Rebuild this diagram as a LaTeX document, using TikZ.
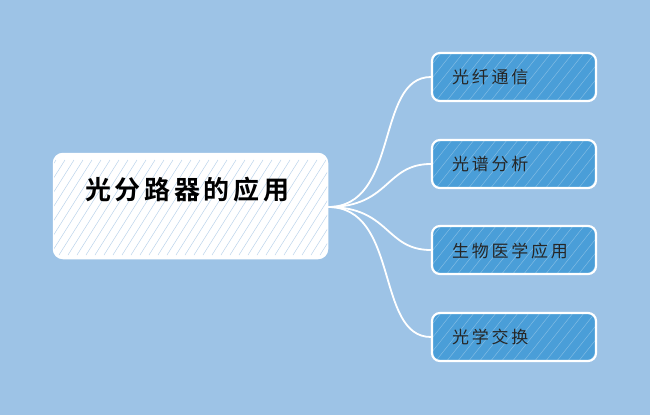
\documentclass[tikz,border=0pt]{standalone}
\usepackage{fontspec}
\newfontfamily\cjk{Noto Sans CJK SC}[LetterSpace=16]
\newfontfamily\cjkb{Noto Sans CJK SC Bold}[LetterSpace=14]
\definecolor{bg}{HTML}{9DC3E6}
\definecolor{leaf}{HTML}{4A9ED8}
\definecolor{hatchc}{HTML}{8FB8DF}
\tikzset{
  x=1pt, y=-1pt,
  root/.style={draw=white, line width=2.5pt, fill=white, rounded corners=9pt, minimum width=273pt, minimum height=104pt, inner sep=0pt},
  leafbox/.style={draw=white, line width=2.2pt, fill=leaf, rounded corners=8pt, minimum width=164pt, minimum height=48pt, inner sep=0pt},
  leaftext/.style={font=\cjk\fontsize{17}{19}\selectfont, text=black!85, anchor=west, inner sep=0pt},
  link/.style={draw=white, line width=1.8pt},
}
\begin{document}
\begin{tikzpicture}
\fill[bg] (0,0) rectangle (650,415);
\useasboundingbox (0,0) rectangle (650,415);
% root
\node[root] (r) at (190.5,206) {};
\begin{scope}
\clip[rounded corners=9pt] (54,154) rectangle (327,258);
\foreach \i in {0,9,...,400} {
  \draw[hatchc, line width=0.5pt, opacity=0.6] (\i+20,160) -- (\i-40,255);
}
\end{scope}
\node[font=\cjkb\fontsize{26}{30}\selectfont, inner sep=0pt, anchor=west] (rt) at (85,190) {光分路器的应用};
% leaves
\node[leafbox] (a) at (514,77) {};
\node[leafbox] (b) at (514,164) {};
\node[leafbox] (c) at (514,250) {};
\node[leafbox] (d) at (514,337) {};
\foreach \n in {a,b,c,d} {
  \begin{scope}
  \clip[rounded corners=8pt] (\n.south west) rectangle (\n.north east);
  \foreach \i in {-40,-29,...,220} {
    \draw[white, line width=0.5pt, opacity=0.3] ([xshift=\i pt]\n.south west) -- ([xshift=\i pt+40pt]\n.north west);
  }
  \end{scope}
}
\node[leaftext] (at) at (452,77) {光纤通信};
\node[leaftext] (bt) at (452,164) {光谱分析};
\node[leaftext] (ct) at (452,251) {生物医学应用};
\node[leaftext] (dt) at (452,337) {光学交换};
% links
\coordinate (o) at (328,207);
\draw[link] (o) .. controls (400,207) and (375,77) .. (a.west);
\draw[link] (o) .. controls (390,207) and (385,164) .. (b.west);
\draw[link] (o) .. controls (390,207) and (385,250) .. (c.west);
\draw[link] (o) .. controls (400,207) and (375,337) .. (d.west);
\end{tikzpicture}
\end{document}
